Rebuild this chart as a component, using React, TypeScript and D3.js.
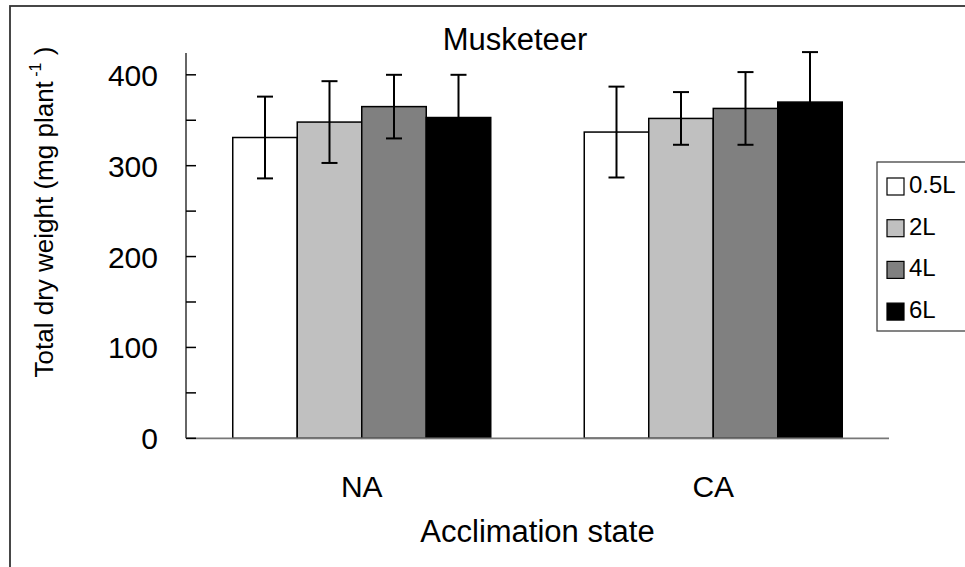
import * as d3 from "d3";

const categories = ["NA", "CA"];
const seriesNames = ["0.5L", "2L", "4L", "6L"];
const seriesColors = ["#ffffff", "#c0c0c0", "#808080", "#000000"];
// mean dry weight per series, in category order (NA, CA)
const mean05L = [331, 337];
const mean2L = [348, 352];
const mean4L = [365, 363];
const mean6L = [353, 370];
// error bar half-widths
const err05L = [45, 50];
const err2L = [45, 29];
const err4L = [35, 40];
const err6L = [47, 55];
const majorTicks = [0, 100, 200, 300, 400];
const minorTicks = [50, 150, 250, 350];

const means = [mean05L, mean2L, mean4L, mean6L];
const errors = [err05L, err2L, err4L, err6L];

const font = "'Liberation Sans', Arial, sans-serif";

export default function App() {
  const width = 965;
  const height = 567;
  const left = 186,
    right = 889,
    top = 53,
    bottom = 438.3;

  const x0 = d3
    .scaleBand()
    .domain(categories)
    .range([left, right])
    .paddingInner(0.266)
    .paddingOuter(0.133);
  const x1 = d3.scaleBand().domain(seriesNames).range([0, x0.bandwidth()]);
  const y = d3.scaleLinear().domain([0, 424]).range([bottom, top]);

  return (
    <svg
      width={width}
      height={height}
      style={{ position: "absolute", left: 0, top: 0, background: "#fff" }}
      fontFamily={font}
    >
      {/* outer frame, runs off the right and bottom edges */}
      <rect x={10} y={6} width={1000} height={600} fill="none" stroke="#333" strokeWidth={1.8} />

      <text x={515} y={50} fontSize={31} textAnchor="middle">
        Musketeer
      </text>

      {/* bars */}
      {seriesNames.map((s, si) =>
        categories.map((c, ci) => {
          const bx = (x0(c) ?? 0) + (x1(s) ?? 0);
          const v = means[si][ci];
          return (
            <rect
              key={s + c}
              x={bx}
              y={y(v)}
              width={x1.bandwidth()}
              height={y(0) - y(v)}
              fill={seriesColors[si]}
              stroke="#000"
              strokeWidth={1.5}
            />
          );
        })
      )}

      {/* error bars */}
      {seriesNames.map((s, si) =>
        categories.map((c, ci) => {
          const cx = (x0(c) ?? 0) + (x1(s) ?? 0) + x1.bandwidth() / 2;
          const v = means[si][ci];
          const e = errors[si][ci];
          return (
            <g key={"e" + s + c} stroke="#000" strokeWidth={2}>
              <line x1={cx} x2={cx} y1={y(v + e)} y2={y(v - e)} />
              <line x1={cx - 8} x2={cx + 8} y1={y(v + e)} y2={y(v + e)} />
              <line x1={cx - 8} x2={cx + 8} y1={y(v - e)} y2={y(v - e)} />
            </g>
          );
        })
      )}

      {/* axes */}
      <line x1={left} x2={left} y1={top} y2={bottom} stroke="#333" strokeWidth={1.5} />
      <line x1={left} x2={right} y1={bottom} y2={bottom} stroke="#777" strokeWidth={1.8} />
      {majorTicks.concat(minorTicks).map((t) => (
        <line key={"t" + t} x1={left} x2={left + 10} y1={y(t)} y2={y(t)} stroke="#000" strokeWidth={1.5} />
      ))}
      {majorTicks.map((t) => (
        <text key={"l" + t} x={158} y={y(t) + 11} fontSize={30} textAnchor="end">
          {t}
        </text>
      ))}

      {categories.map((c) => (
        <text key={c} x={(x0(c) ?? 0) + x0.bandwidth() / 2} y={497} fontSize={30} textAnchor="middle">
          {c}
        </text>
      ))}

      <text x={(left + right) / 2} y={542} fontSize={31} textAnchor="middle">
        Acclimation state
      </text>

      <text
        transform="translate(53,212) rotate(-90)"
        fontSize={26}
        textAnchor="middle"
      >
        Total dry weight (mg plant
        <tspan fontSize={16} dy={-12}> -1</tspan>
        <tspan dy={12}> )</tspan>
      </text>

      {/* legend */}
      <rect x={877} y={162} width={120} height={169} fill="#fff" stroke="#333" strokeWidth={1.2} />
      {seriesNames.map((s, i) => (
        <g key={"lg" + s} transform={`translate(887,${178 + i * 41.7})`}>
          <rect x={0} y={0} width={17} height={17} fill={seriesColors[i]} stroke="#000" strokeWidth={1.2} />
          <text x={22} y={15} fontSize={24}>
            {s}
          </text>
        </g>
      ))}
    </svg>
  );
}
